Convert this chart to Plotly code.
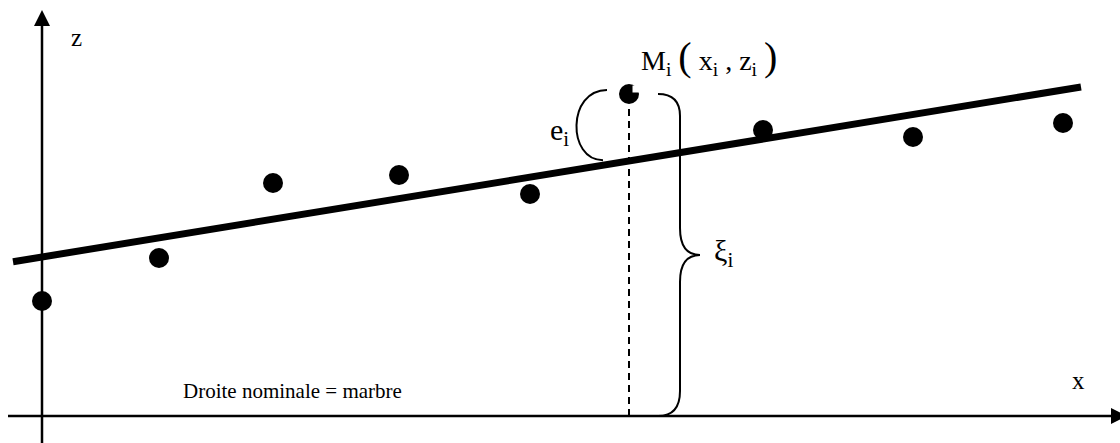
import plotly.graph_objects as go

# Measured points (x along the marble, z height above it)
x_pts = [0, 117, 231, 357, 488, 587, 721, 871, 1021]
z_pts = [115, 158, 233, 241, 222, 322, 286, 279, 293]

# Fitted straight line z = a + b*x, drawn over this x span
line_a = 159
line_b = 0.1636
line_x = [-29, 1039]
line_z = [line_a + line_b * v for v in line_x]

# Highlighted point M_i
i_m = 5
xm, zm = x_pts[i_m], z_pts[i_m]

FONT = "serif"

fig = go.Figure()

# fitted line
fig.add_trace(go.Scatter(x=line_x, y=line_z, mode="lines",
                         line=dict(color="black", width=7), hoverinfo="skip"))

# measured points
fig.add_trace(go.Scatter(x=x_pts, y=z_pts, mode="markers",
                         marker=dict(color="black", size=20), hoverinfo="skip"))

# small bite out of the M_i dot
fig.add_trace(go.Scatter(x=[xm + 7], y=[zm + 5], mode="markers",
                         marker=dict(color="white", size=7, symbol="square"),
                         hoverinfo="skip"))

shapes = []
AX = dict(color="black", width=2.5)

# vertical axis z with arrow head
shapes.append(dict(type="line", x0=0, x1=0, y0=-27, y1=391, line=AX))
shapes.append(dict(type="path", path="M -8 390 L 8 390 L 0 406 Z",
                   fillcolor="black", line=dict(color="black", width=0)))
# horizontal axis x with arrow head
shapes.append(dict(type="line", x0=-34, x1=1070, y0=0, y1=0, line=AX))
shapes.append(dict(type="path", path="M 1069 -8 L 1069 8 L 1085 0 Z",
                   fillcolor="black", line=dict(color="black", width=0)))

# dashed drop line from M_i to the marble
shapes.append(dict(type="line", x0=xm, x1=xm, y0=0, y1=zm - 10,
                   line=dict(color="black", width=2, dash="7px,5px")))

# brace xi_i : from the marble up to M_i
mid = zm / 2
bx = xm + 51
xi_path = (f"M {xm+29} {zm} Q {bx} {zm} {bx} {zm-22} "
           f"L {bx} {mid+27} Q {bx} {mid} {xm+71} {mid} "
           f"Q {bx} {mid} {bx} {mid-27} "
           f"L {bx} 25 Q {bx} 0 {xm+29} 0")
shapes.append(dict(type="path", path=xi_path, line=dict(color="black", width=2)))

# bracket e_i : from the fitted line up to M_i
ze = line_a + line_b * (xm - 26) + 5
e_path = (f"M {xm-22} {zm+4} C {xm-62} {zm+4} {xm-62} {ze} {xm-26} {ze}")
shapes.append(dict(type="path", path=e_path, line=dict(color="black", width=2)))

BIG = "<span style='font-size:40px'>{}</span>"
annotations = [
    dict(x=34, y=379, text="z", font=dict(size=25)),
    dict(x=1036, y=36, text="x", font=dict(size=25)),
    dict(x=139, y=25, text="Droite nominale = marbre", xanchor="left",
         font=dict(size=21)),
    dict(x=xm + 10, y=359, xanchor="left",
         text=("M<sub>i</sub> " + BIG.format("(") + " x<sub>i</sub> , z<sub>i</sub> "
               + BIG.format(")")),
         font=dict(size=28)),
    dict(x=xm - 81, y=284, xanchor="left", text="e<sub>i</sub>", font=dict(size=30)),
    dict(x=xm + 83, y=163, xanchor="left", text="ξ<sub>i</sub>", font=dict(size=30)),
]
for a in annotations:
    a.update(showarrow=False, xref="x", yref="y")
    a["font"].update(family=FONT, color="black")

fig.update_layout(
    width=1120, height=443,
    margin=dict(l=0, r=0, t=0, b=0),
    paper_bgcolor="white", plot_bgcolor="white",
    font=dict(family=FONT, color="black"),
    showlegend=False,
    xaxis=dict(range=[-42, 1078], visible=False, fixedrange=True),
    yaxis=dict(range=[-27, 416], visible=False, fixedrange=True),
    shapes=shapes, annotations=annotations,
)

fig.write_html("out.html")
